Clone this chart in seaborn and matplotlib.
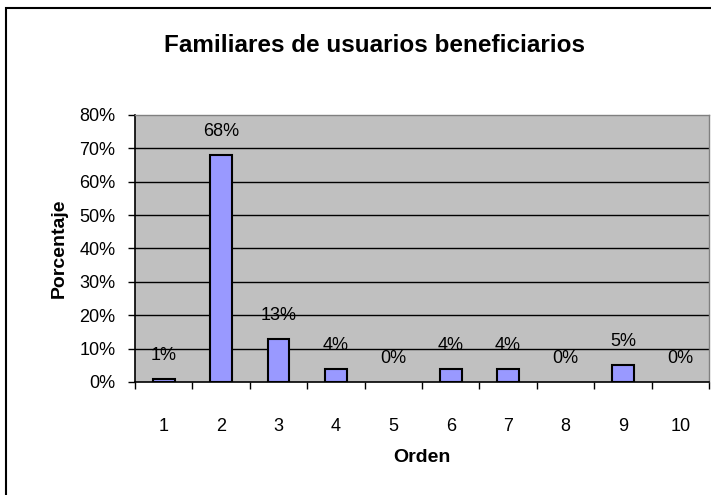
import numpy as np
import pandas as pd
import matplotlib.pyplot as plt
import seaborn as sns
from matplotlib.patches import Rectangle

orden = ['1', '2', '3', '4', '5', '6', '7', '8', '9', '10']
porcentaje = [1, 68, 13, 4, 0, 4, 4, 0, 5, 0]
yticks = [0, 10, 20, 30, 40, 50, 60, 70, 80]

sns.set_theme(style="white")
plt.rcParams['font.family'] = ['Liberation Sans', 'DejaVu Sans']
plt.rcParams.update({'text.color': 'black', 'axes.labelcolor': 'black',
                     'xtick.color': 'black', 'ytick.color': 'black'})

fig = plt.figure(figsize=(7.11, 4.95), dpi=100)
ax = fig.add_axes([135/711, 1 - 382/495, 574/711, 267/495])

df = pd.DataFrame({'Orden': orden, 'Porcentaje': porcentaje})
sns.barplot(data=df, x='Orden', y='Porcentaje', color='#9999FF', saturation=1,
            edgecolor='black', linewidth=1.5, width=0.38, ax=ax, zorder=3)
for p in ax.patches:
    if p.get_height() == 0:
        p.set_linewidth(0)

ax.set_facecolor('#C0C0C0')
ax.set_ylim(0, 80)
ax.set_xlim(-0.5, 9.5)
ax.set_yticks(yticks)
ax.set_yticklabels(['{}%'.format(v) for v in yticks], fontsize=13)
for v in yticks[1:-1]:
    ax.axhline(v, color='black', linewidth=1, zorder=1)

# category labels centred, tick marks on the boundaries
ax.set_xticks(range(len(orden)))
ax.set_xticklabels(orden, fontsize=13)
ax.set_xticks(np.arange(-0.5, len(orden), 1), minor=True)
ax.tick_params(axis='x', which='major', length=0, pad=26)
ax.tick_params(axis='x', which='minor', length=5, width=1, color='black', direction='out', bottom=True)
ax.tick_params(axis='y', length=5, width=1, color='black', direction='out', left=True, pad=9)

for s in ['left', 'bottom']:
    ax.spines[s].set_color('black')
    ax.spines[s].set_linewidth(1.2)
for s in ['top', 'right']:
    ax.spines[s].set_color('#808080')
    ax.spines[s].set_linewidth(1)

for i, v in enumerate(porcentaje):
    ax.annotate('{}%'.format(v), (i, v), xytext=(0, 17), textcoords='offset points',
                ha='center', va='center', fontsize=13, zorder=4)

ax.set_xlabel('Orden', fontsize=14, fontweight='bold', labelpad=10)
ax.set_ylabel('Porcentaje', fontsize=14, fontweight='bold', labelpad=8)

fig.text(374/711, 1 - 45/495, 'Familiares de usuarios beneficiarios',
         ha='center', va='center', fontsize=17.5, fontweight='bold')

fig.patches.append(Rectangle((6/711, -0.1), 1.1, 1 - 8/495 + 0.1, transform=fig.transFigure,
                             fill=False, edgecolor='black', linewidth=1.5))

fig.savefig('out.png', dpi=100)
